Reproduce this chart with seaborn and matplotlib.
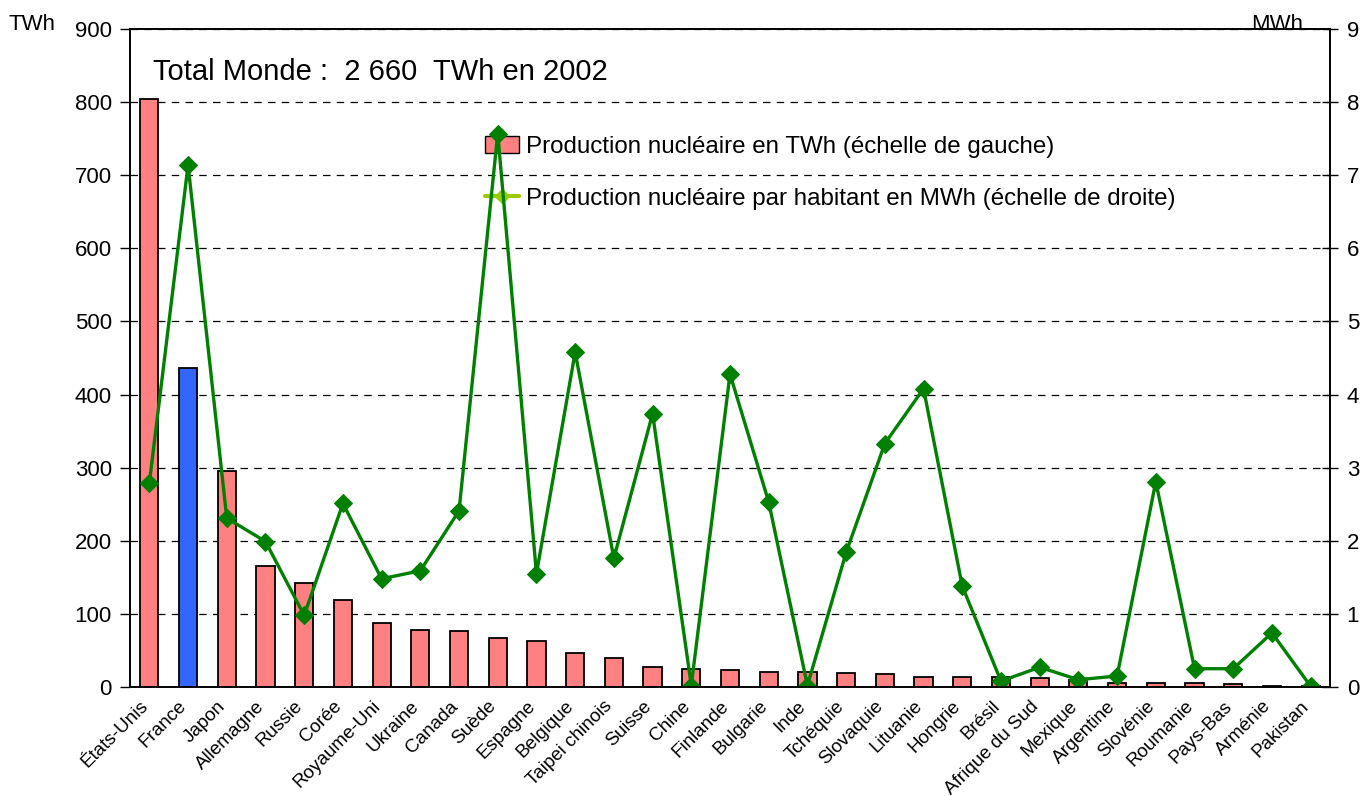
import numpy as np
import pandas as pd
import matplotlib
matplotlib.use("Agg")
import matplotlib.pyplot as plt
import matplotlib.transforms as mtransforms
import seaborn as sns
from matplotlib.patches import Patch
from matplotlib.lines import Line2D

countries = ["États-Unis", "France", "Japon", "Allemagne", "Russie", "Corée",
             "Royaume-Uni", "Ukraine", "Canada", "Suède", "Espagne", "Belgique",
             "Taipei chinois", "Suisse", "Chine", "Finlande", "Bulgarie", "Inde",
             "Tchéquie", "Slovaquie", "Lituanie", "Hongrie", "Brésil",
             "Afrique du Sud", "Mexique", "Argentine", "Slovénie", "Roumanie",
             "Pays-Bas", "Arménie", "Pakistan"]
twh = [804, 436, 295, 165, 142, 119, 88, 78, 76, 67, 63, 47, 39, 27, 25, 23,
       21, 20, 19, 18, 14, 14, 14, 12, 10, 6, 5.6, 5.5, 4, 2, 1.8]
mwh = [2.79, 7.14, 2.31, 1.99, 0.98, 2.51, 1.48, 1.59, 2.41, 7.57, 1.55, 4.58,
       1.76, 3.74, 0.02, 4.28, 2.53, 0.02, 1.84, 3.33, 4.08, 1.38, 0.08, 0.27,
       0.10, 0.15, 2.81, 0.25, 0.25, 0.74, 0.01]
left_ticks = list(range(0, 901, 100))
right_ticks = list(range(0, 10))

title_text = "Total Monde :  2 660  TWh en 2002"
legend_bar = "Production nucléaire en TWh (échelle de gauche)"
legend_line = "Production nucléaire par habitant en MWh (échelle de droite)"

sns.set_style("white")
plt.rcParams['font.family'] = ['Liberation Sans', 'DejaVu Sans']
plt.rcParams['text.color'] = 'black'
plt.rcParams['xtick.color'] = 'black'
plt.rcParams['ytick.color'] = 'black'
plt.rcParams['axes.labelcolor'] = 'black'

bar_color = "#FF8080"
france_color = "#3366FF"
line_color = "#008000"
legend_line_color = "#99CC00"

colors = [france_color if c == "France" else bar_color for c in countries]
df = pd.DataFrame({"pays": countries, "twh": twh, "mwh": mwh})

fig = plt.figure(figsize=(13.62, 7.96), dpi=100)
ax = fig.add_axes([130/1362, 109/796, 1200/1362, 658/796])

sns.barplot(data=df, x="pays", y="twh", hue="pays", palette=colors,
            legend=False, ax=ax, width=0.47, edgecolor="black", linewidth=1.3,
            saturation=1, zorder=2)
ax.set_xlim(-0.5, len(countries) - 0.5)
ax.set_ylim(0, 900)
ax.set_yticks(left_ticks)
ax.set_xlabel("")
ax.set_ylabel("")
ax.yaxis.grid(True, linestyle=(0, (6, 5)), color="black", linewidth=0.9)
ax.set_axisbelow(True)
ax.tick_params(axis="y", direction="out", length=7, width=1, labelsize=16,
               left=True, pad=6, colors="black")
ax.tick_params(axis="x", length=0, labelsize=13.6, pad=12, colors="black")
shift = mtransforms.ScaledTranslation(-0.04, 0, fig.dpi_scale_trans)
for lab in ax.get_xticklabels():
    lab.set_rotation(45)
    lab.set_ha("right")
    lab.set_va("center")
    lab.set_rotation_mode("anchor")
    lab.set_transform(lab.get_transform() + shift)
for s in ax.spines.values():
    s.set_visible(True)
    s.set_color("black")
    s.set_linewidth(1.2)

ax2 = ax.twinx()
sns.lineplot(x=np.arange(len(countries)), y=mwh, ax=ax2, color=line_color,
             linewidth=2.4, marker="D", markersize=9, markeredgecolor=line_color,
             markerfacecolor=line_color)
ax2.set_ylim(0, 9)
ax2.set_yticks(right_ticks)
ax2.set_ylabel("")
ax2.tick_params(axis="y", direction="inout", length=12, width=1, labelsize=16,
                right=True, pad=6, colors="black")
for s in ax2.spines.values():
    s.set_color("black")
    s.set_linewidth(1.2)

ax.text(0.019, 0.935, title_text, transform=ax.transAxes, fontsize=21,
        va="center", ha="left", color="black")
fig.text(32/1362, 1 - 25/796, "TWh", fontsize=16, ha="center", va="center",
         color="black")
fig.text(1277/1362, 1 - 25/796, "MWh", fontsize=16, ha="center", va="center",
         color="black", zorder=10)

handles = [Patch(facecolor=bar_color, edgecolor="black", linewidth=1),
           Line2D([0], [0], color=legend_line_color, linewidth=3, marker="D",
                  markersize=7, markerfacecolor=legend_line_color,
                  markeredgecolor=legend_line_color)]
leg = ax.legend(handles, [legend_bar, legend_line], loc="upper left",
                bbox_to_anchor=((485 - 130) / 1200, (687 - 136) / 658),
                frameon=False, fontsize=17.4, handlelength=1.4,
                handletextpad=0.3, labelspacing=1.23, borderpad=0,
                borderaxespad=0)
for t in leg.get_texts():
    t.set_color("black")

fig.savefig("out.png", dpi=100)
